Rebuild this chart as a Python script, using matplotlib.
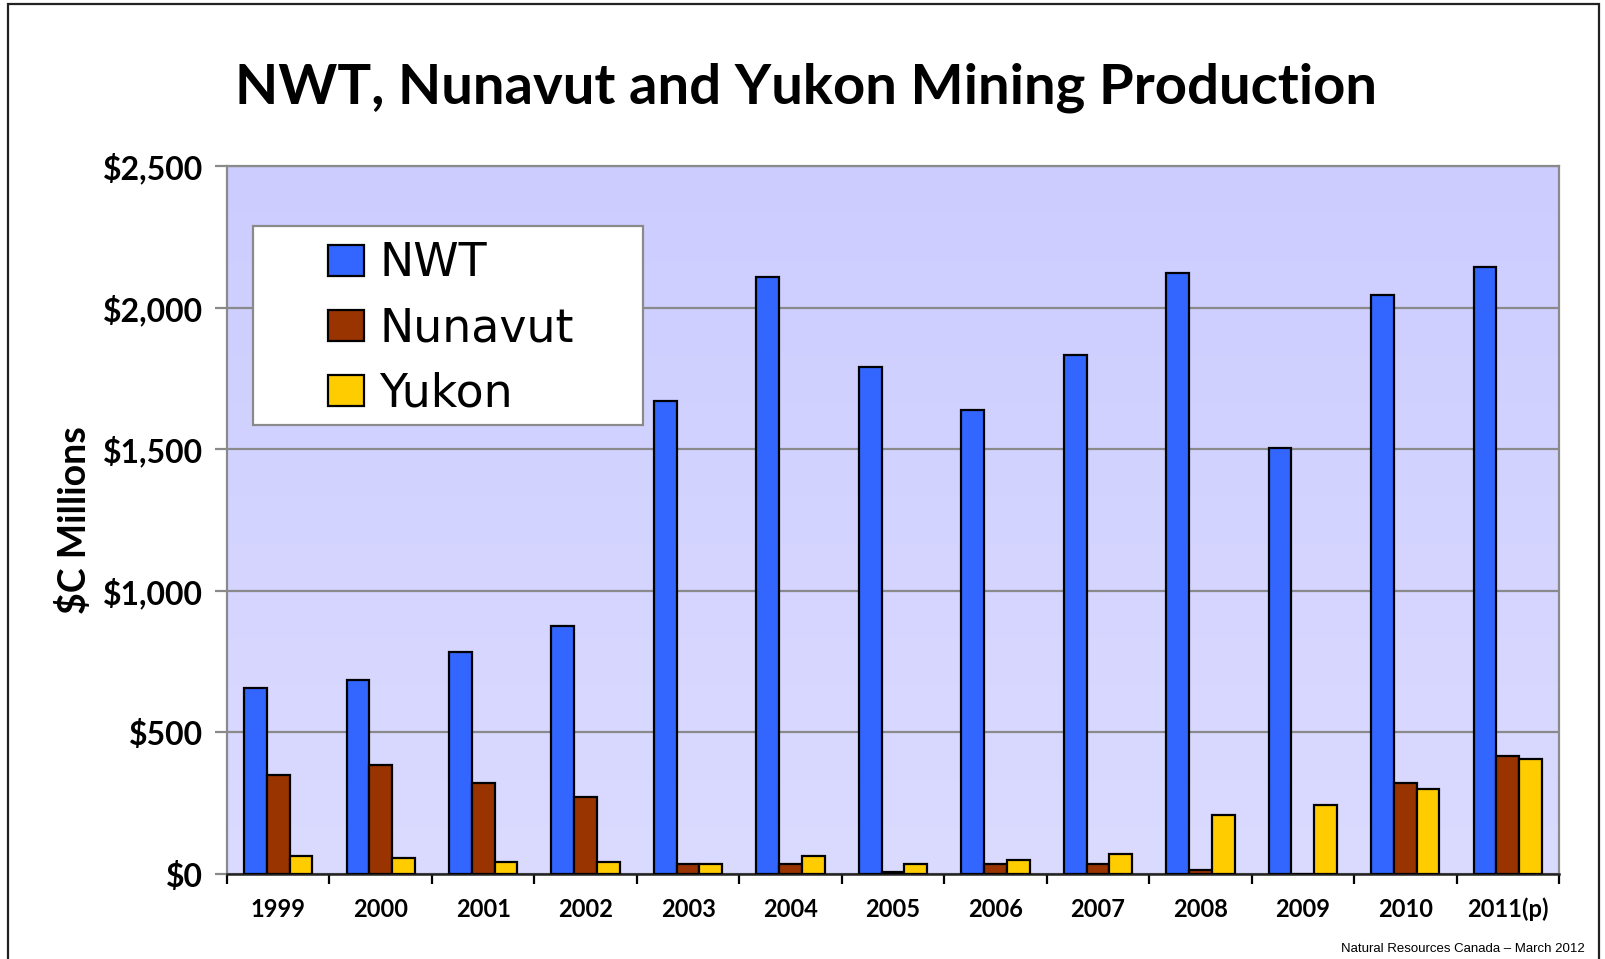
import numpy as np
import matplotlib
matplotlib.use("Agg")
import matplotlib.pyplot as plt
from matplotlib.patches import Rectangle

years = ["1999", "2000", "2001", "2002", "2003", "2004", "2005", "2006",
         "2007", "2008", "2009", "2010", "2011(p)"]
nwt = [656, 685, 785, 875, 1669, 2108, 1789, 1640, 1831, 2123, 1506, 2044, 2143]
nunavut = [350, 386, 321, 272, 37, 37, 7, 37, 37, 15, 0, 321, 415]
yukon = [63, 58, 44, 44, 36, 63, 37, 51, 72, 209, 244, 300, 407]
series_names = ["NWT", "Nunavut", "Yukon"]
series_colors = ["#3366FF", "#993300", "#FFCC00"]
yticks = [0, 500, 1000, 1500, 2000, 2500]
ytick_labels = ["$0", "$500", "$1,000", "$1,500", "$2,000", "$2,500"]

W, H = 1605, 959
fig = plt.figure(figsize=(W / 100, H / 100), dpi=100)
fig.patch.set_facecolor("white")

# figure border
fig.patches.append(Rectangle((8 / W, -0.02), (1599 - 8) / W, 1.02 - 4 / H,
                             transform=fig.transFigure, fill=False,
                             edgecolor="#222222", linewidth=1.6))

left, right, top, bottom = 227, 1559, 166, 874
ax = fig.add_axes([left / W, 1 - bottom / H, (right - left) / W, (bottom - top) / H])
AW, AH = right - left, bottom - top

n = len(years)
x = np.arange(n)
ax.set_xlim(-0.5, n - 0.5)
ax.set_ylim(0, 2500)

# gradient background
grad = np.linspace(0, 1, 256).reshape(-1, 1)
c_top = np.array([204, 204, 255]) / 255
c_bot = np.array([219, 219, 255]) / 255
img = c_bot[None, None, :] * (1 - grad[:, :, None]) + c_top[None, None, :] * grad[:, :, None]
ax.imshow(img, aspect="auto", extent=[-0.5, n - 0.5, 0, 2500], origin="lower", zorder=0)

bw = 0.222
for i, (vals, name, col) in enumerate(zip([nwt, nunavut, yukon], series_names, series_colors)):
    ax.bar(x + (i - 1) * bw, vals, width=bw, color=col, edgecolor="black",
           linewidth=1.6, label=name, zorder=3)

ax.set_yticks(yticks)
ax.set_yticklabels(ytick_labels, fontfamily="Lato", fontweight="bold", fontsize=23)
ax.yaxis.grid(True, color="#8a8a8a", linewidth=1.6, zorder=1)
ax.set_axisbelow(True)
ax.tick_params(axis="y", length=9, width=1.6, color="#8a8a8a", pad=8)

ax.set_xticks(np.arange(-0.5, n, 1.0))
ax.set_xticklabels([])
ax.set_xticks(x, minor=True)
ax.set_xticklabels(years, minor=True, fontfamily="Lato", fontweight="bold", fontsize=17)
ax.tick_params(axis="x", which="major", length=7, width=1.6, color="black", direction="out")
ax.tick_params(axis="x", which="minor", length=0, pad=17)

for s in ["top", "right", "left"]:
    ax.spines[s].set_color("#8a8a8a")
    ax.spines[s].set_linewidth(1.6)
ax.spines["bottom"].set_color("#222222")
ax.spines["bottom"].set_linewidth(1.8)

ax.set_ylabel("$C Millions", fontfamily="Lato", fontweight="bold", fontsize=27)
ax.yaxis.set_label_coords((92 - left) / AW, 0.5)

# legend box (asymmetric padding as in the original)
ax.add_patch(Rectangle(((253 - left) / AW, (bottom - 425) / AH), 390 / AW, 199 / AH,
                       transform=ax.transAxes, facecolor="white", edgecolor="#8a8a8a",
                       linewidth=1.6, zorder=4))
leg = ax.legend(loc="center left", bbox_to_anchor=((328 - left) / AW, (bottom - 329) / AH),
                borderaxespad=0, borderpad=0,
                prop={"family": "DejaVu Sans", "size": 33}, frameon=False,
                handlelength=0.79, handleheight=0.68, handletextpad=0.33,
                labelspacing=0.44)
leg.set_zorder(5)

fig.text(806 / W, 1 - 88 / H, "NWT, Nunavut and Yukon Mining Production",
         ha="center", va="center", fontfamily="Lato", fontweight="bold", fontsize=40.5)

fig.text(1585 / W, 1 - 949 / H, "Natural Resources Canada \u2013 March 2012",
         ha="right", va="center", family=["Liberation Sans Narrow", "Liberation Sans"], fontsize=9.5)

fig.savefig("out.png", dpi=100)
